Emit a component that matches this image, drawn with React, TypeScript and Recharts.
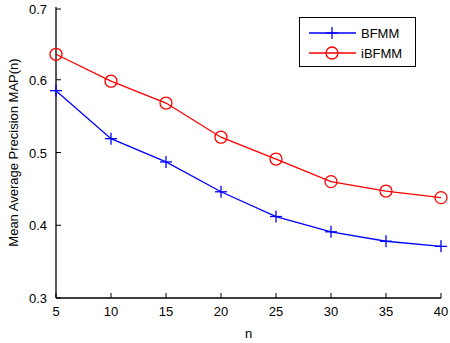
import { LineChart, Line, XAxis, YAxis } from "recharts";

const nValues = [5, 10, 15, 20, 25, 30, 35, 40];
const bfmm = [0.585, 0.519, 0.487, 0.446, 0.412, 0.391, 0.378, 0.371];
const ibfmm = [0.635, 0.598, 0.568, 0.521, 0.491, 0.46, 0.447, 0.438];
const xTicks = [5, 10, 15, 20, 25, 30, 35, 40];
const yTicks = [0.3, 0.4, 0.5, 0.6, 0.7];

const data = nValues.map((n, i) => ({ n, BFMM: bfmm[i], iBFMM: ibfmm[i] }));

const FONT = "Arial, 'Liberation Sans', Helvetica, sans-serif";
const M = 8; // tick margin
const TL = 5; // inward tick length
const AXIS = { stroke: "#000", strokeWidth: 1.3, strokeOpacity: 1 };

const BottomTick = ({ x, y, payload }: any) => (
  <g>
    <line x1={x} x2={x} y1={y - M} y2={y - M - TL} stroke="#000" />
    <text x={x} y={y + 10} textAnchor="middle" fontSize={13} fontFamily={FONT} fill="#000">
      {payload.value}
    </text>
  </g>
);

const LeftTick = ({ x, y, payload }: any) => (
  <g>
    <line x1={x + M} x2={x + M + TL} y1={y} y2={y} stroke="#000" />
    <text x={x - 1} y={y + 5} textAnchor="end" fontSize={13} fontFamily={FONT} fill="#000">
      {payload.value.toFixed(1)}
    </text>
  </g>
);

const TopTick = ({ x, y }: any) => (
  <line x1={x} x2={x} y1={y + M} y2={y + M + TL} stroke="#000" />
);

const RightTick = ({ x, y }: any) => (
  <line x1={x - M} x2={x - M - TL} y1={y} y2={y} stroke="#000" />
);

const PlusDot = ({ cx, cy }: any) => (
  <g stroke="#0000ff" strokeWidth={1.3}>
    <line x1={cx - 6} x2={cx + 6} y1={cy} y2={cy} />
    <line x1={cx} x2={cx} y1={cy - 6} y2={cy + 6} />
  </g>
);

const CircleDot = ({ cx, cy }: any) => (
  <circle cx={cx} cy={cy} r={6} fill="none" stroke="#ff0000" strokeWidth={1.3} />
);

const LegendBox = () => (
  <div
    style={{
      position: "absolute",
      left: 299,
      top: 17,
      border: "1px solid #000",
      background: "#fff",
      width: 117,
      height: 50,
      boxSizing: "border-box",
    }}
  >
    <svg width={115} height={48} style={{ display: "block" }}>
      <line x1={9} x2={56} y1={15} y2={15} stroke="#0000ff" strokeWidth={1.3} />
      <PlusDot cx={32} cy={15} />
      <text x={61} y={20} fontSize={13} fontFamily={FONT}>BFMM</text>
      <line x1={9} x2={56} y1={35} y2={35} stroke="#ff0000" strokeWidth={1.3} />
      <CircleDot cx={32} cy={35} />
      <text x={61} y={40} fontSize={13} fontFamily={FONT}>iBFMM</text>
    </svg>
  </div>
);

export default function App() {
  return (
    <div style={{ position: "absolute", left: 0, top: 0, width: 450, height: 343, background: "#fff" }}>
      <LineChart width={450} height={343} data={data} margin={{ top: 7, right: 9, left: 0, bottom: 15 }}>
        <XAxis
          dataKey="n"
          type="number"
          domain={[5, 40]}
          ticks={xTicks}
          tickSize={0}
          tickMargin={M}
          height={30}
          stroke="#000"
          axisLine={AXIS}
          tick={<BottomTick />}
          label={{ value: "n", position: "insideBottom", offset: -10, fontSize: 13, fontFamily: FONT, fill: "#000" }}
        />
        <XAxis
          xAxisId="top"
          dataKey="n"
          type="number"
          orientation="top"
          domain={[5, 40]}
          ticks={xTicks}
          tickSize={0}
          tickMargin={M}
          height={0}
          stroke="#000"
          axisLine={AXIS}
          tick={<TopTick />}
        />
        <YAxis
          type="number"
          domain={[0.3, 0.7]}
          ticks={yTicks}
          tickSize={0}
          tickMargin={M}
          width={56}
          stroke="#000"
          axisLine={AXIS}
          tick={<LeftTick />}
          label={{
            value: "Mean Average Precision MAP(n)",
            angle: -90,
            position: "insideLeft",
            offset: 13,
            style: { textAnchor: "middle" },
            fontSize: 13,
            fontFamily: FONT,
            fill: "#000",
          }}
        />
        <YAxis
          yAxisId="right"
          type="number"
          orientation="right"
          domain={[0.3, 0.7]}
          ticks={yTicks}
          tickSize={0}
          tickMargin={M}
          width={0}
          stroke="#000"
          axisLine={AXIS}
          tick={<RightTick />}
        />
        <Line
          dataKey="BFMM"
          stroke="#0000ff"
          strokeWidth={1.3}
          dot={<PlusDot />}
          activeDot={false}
          isAnimationActive={false}
        />
        <Line
          dataKey="iBFMM"
          stroke="#ff0000"
          strokeWidth={1.3}
          dot={<CircleDot />}
          activeDot={false}
          isAnimationActive={false}
        />
      </LineChart>
      <LegendBox />
    </div>
  );
}
